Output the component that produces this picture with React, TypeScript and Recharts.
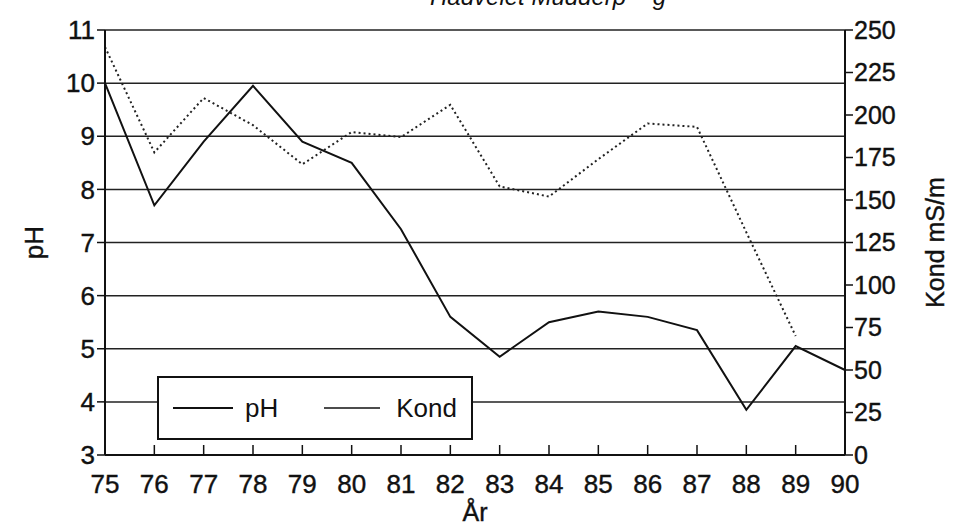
import React from "react";
import {
  LineChart,
  Line,
  XAxis,
  YAxis,
  CartesianGrid,
  Legend,
  Label,
} from "recharts";

const years = [75, 76, 77, 78, 79, 80, 81, 82, 83, 84, 85, 86, 87, 88, 89, 90];
const phValues = [10.0, 7.7, 8.9, 9.95, 8.9, 8.5, 7.25, 5.6, 4.85, 5.5, 5.7, 5.6, 5.35, 3.85, 5.05, 4.6];
const kondValues = [240, 178, 210, 194, 171, 190, 187, 206, 158, 152, 174, 195, 193, 131, 70, null];
const phTicks = [3, 4, 5, 6, 7, 8, 9, 10, 11];
const kondTicks = [0, 25, 50, 75, 100, 125, 150, 175, 200, 225, 250];

const data = years.map((year, i) => ({
  year,
  pH: phValues[i],
  Kond: kondValues[i],
}));

const FONT = "'Liberation Sans', Arial, Helvetica, sans-serif";

const XTick = (props: any) => {
  const { x, y, payload } = props;
  return (
    <g>
      <line x1={x} x2={x} y1={y - 10} y2={y} stroke="#111" strokeWidth={1.5} />
      <text
        x={x}
        y={y + 38}
        textAnchor="middle"
        fontSize={26}
        fill="#111"
        stroke="#111"
        strokeWidth={0.4}
        fontFamily={FONT}
      >
        {payload.value}
      </text>
    </g>
  );
};

const LegendBox = () => (
  <div
    style={{
      width: "100%",
      height: "100%",
      boxSizing: "border-box",
      border: "2px solid #111",
      background: "#fff",
      display: "flex",
      alignItems: "center",
      fontFamily: FONT,
      fontSize: 26,
      color: "#111",
    }}
  >
    <svg width={60} height={10} style={{ marginLeft: 14 }}>
      <line x1={0} x2={60} y1={5} y2={5} stroke="#111" strokeWidth={2} />
    </svg>
    <span style={{ marginLeft: 12 }}>pH</span>
    <svg width={56} height={10} style={{ marginLeft: 46 }}>
      <line x1={0} x2={56} y1={5} y2={5} stroke="#111" strokeWidth={1.5} />
    </svg>
    <span style={{ marginLeft: 16 }}>Kond</span>
  </div>
);

export default function App() {
  const tickFont = { fontSize: 26, fill: "#111", stroke: "#111", strokeWidth: 0.4, fontFamily: FONT };
  return (
    <div style={{ position: "absolute", left: 0, top: 0, width: 955, height: 525, background: "#fff", overflow: "hidden" }}>
      <div
        style={{
          position: "absolute",
          left: 430,
          top: -17,
          fontFamily: FONT,
          fontStyle: "italic",
          fontSize: 24,
          color: "#111",
        }}
      >
        Hadvelet Mudderp – g
      </div>
      <LineChart
        width={955}
        height={525}
        data={data}
        margin={{ top: 30, right: 0, left: 0, bottom: 0 }}
      >
        <CartesianGrid
          horizontal
          vertical={false}
          stroke="#222"
          strokeWidth={1.5}
          yAxisId="left"
        />
        <XAxis
          dataKey="year"
          type="number"
          domain={[75, 90]}
          ticks={years}
          interval={0}
          height={70}
          tickLine={false}
          tickSize={0}
          tickMargin={0}
          tick={<XTick />}
          axisLine={{ stroke: "#111", strokeWidth: 2 }}
        >
          <Label value="År" position="insideBottom" offset={4} fontSize={25} fill="#111" stroke="#111" strokeWidth={0.4} fontFamily={FONT} />
        </XAxis>
        <YAxis
          yAxisId="left"
          domain={[3, 11]}
          ticks={phTicks}
          interval={0}
          width={105}
          tickSize={8}
          tickMargin={2}
          tick={tickFont}
          tickLine={{ stroke: "#111", strokeWidth: 1.5 }}
          axisLine={{ stroke: "#111", strokeWidth: 2 }}
        >
          <Label
            value="pH"
            angle={-90}
            position="insideLeft"
            offset={34}
            fontSize={26}
            fill="#111"
            stroke="#111"
            strokeWidth={0.4}
            fontFamily={FONT}
            style={{ textAnchor: "middle" }}
          />
        </YAxis>
        <YAxis
          yAxisId="right"
          orientation="right"
          domain={[0, 250]}
          ticks={kondTicks}
          interval={0}
          width={110}
          tickSize={8}
          tickMargin={1}
          tick={{ ...tickFont, fontSize: 25 }}
          tickLine={{ stroke: "#111", strokeWidth: 1.5 }}
          axisLine={{ stroke: "#111", strokeWidth: 2 }}
        >
          <Label
            value="Kond mS/m"
            angle={-90}
            position="insideRight"
            offset={20}
            fontSize={25}
            fill="#111"
            stroke="#111"
            strokeWidth={0.4}
            fontFamily={FONT}
            style={{ textAnchor: "middle" }}
          />
        </YAxis>
        <Legend
          layout="horizontal"
          verticalAlign="middle"
          align="center"
          content={<LegendBox />}
          wrapperStyle={{ left: 157, top: 376, width: 316, height: 64 }}
        />
        <Line
          yAxisId="left"
          dataKey="pH"
          type="linear"
          stroke="#111"
          strokeWidth={2}
          dot={false}
          isAnimationActive={false}
        />
        <Line
          yAxisId="right"
          dataKey="Kond"
          type="linear"
          stroke="#222"
          strokeWidth={2}
          strokeDasharray="2 3"
          dot={false}
          connectNulls={false}
          isAnimationActive={false}
        />
      </LineChart>
    </div>
  );
}
